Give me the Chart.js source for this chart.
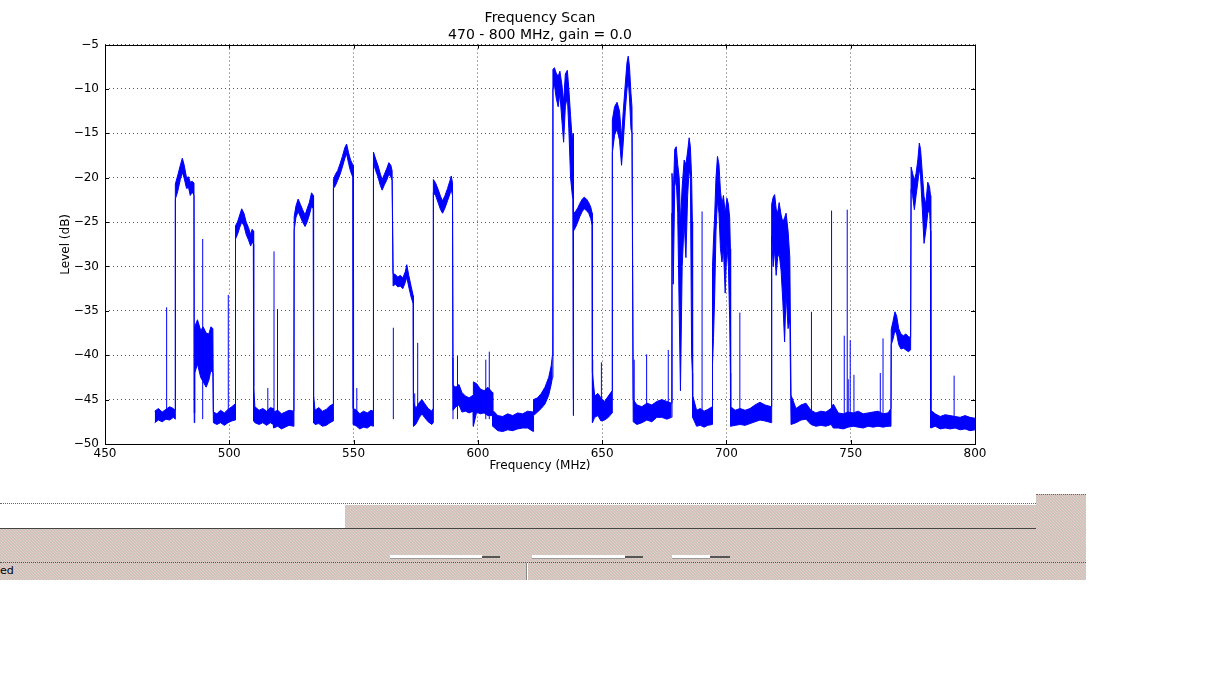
<!DOCTYPE html>
<html>
<head>
<meta charset="utf-8">
<title>Frequency Scan</title>
<script src="https://cdn.jsdelivr.net/npm/chart.js@4/dist/chart.umd.min.js"></script>
<style>
  body { margin: 0; background: #fff; font-family: "DejaVu Sans", sans-serif; }
  #wrap { position: absolute; left: 0; top: 0; width: 1216px; height: 490px; }
  .abs { position: absolute; }
  .beige {
    background-color: #c8c6ba;
    background-image: linear-gradient(45deg, transparent 40%, rgba(240,200,205,0.9) 40%, rgba(240,200,205,0.9) 60%, transparent 60%),
                      radial-gradient(circle, #f3eeb4 0.6px, transparent 0.7px);
    background-size: 3px 3px, 3px 3px;
    background-position: 0 0, 1px 1px;
  }
</style>
</head>
<body>
<div id="wrap"><canvas id="scanChart"></canvas></div>

<!-- leftover window widgets under the plot -->
<div class="abs" style="left:0;top:503px;width:1036px;border-top:1px dotted #666;"></div>
<div class="abs beige" style="left:345px;top:505px;width:691px;height:23px;"></div>
<div class="abs beige" style="left:1036px;top:494px;width:50px;height:35px;border-top:1px dotted #666;"></div>
<div class="abs" style="left:0;top:528px;width:1036px;height:1px;background:#444;"></div>
<div class="abs beige" style="left:0;top:529px;width:1086px;height:51px;"></div>
<div class="abs" style="left:0;top:562px;width:1086px;border-top:1px dotted #555;"></div>
<div class="abs" style="left:390px;top:555px;width:92px;height:3px;background:#fff;border-bottom:1px solid #999;"></div>
<div class="abs" style="left:482px;top:556px;width:18px;height:2px;background:#555;"></div>
<div class="abs" style="left:532px;top:555px;width:93px;height:3px;background:#fff;border-bottom:1px solid #999;"></div>
<div class="abs" style="left:625px;top:556px;width:18px;height:2px;background:#555;"></div>
<div class="abs" style="left:672px;top:555px;width:38px;height:3px;background:#fff;border-bottom:1px solid #999;"></div>
<div class="abs" style="left:710px;top:556px;width:20px;height:2px;background:#555;"></div>
<div class="abs" style="left:526px;top:563px;width:0;height:17px;border-left:1px solid #888;border-right:1px solid #fff;"></div>
<div class="abs" style="left:0;top:564px;font-size:11px;color:#000;">ed</div>

<script>
// Scan trace: upper and lower edge of the noisy trace at each frequency
const freqMHz = [
  470.0, 471.5, 473.0, 474.5, 476.0, 477.5, 478.2,
  478.3, 479.2, 480.3, 481.1, 481.8, 482.8, 483.6, 484.3, 485.1, 485.8,
  485.9,
  486.1, 487.2, 488.5, 489.5, 490.7, 491.8, 492.6, 493.4,
  493.6, 495.0, 496.5, 498.0, 499.5, 501.0, 502.3,
  502.5, 503.3, 504.2, 505.0, 505.9, 506.8, 507.7, 508.6, 509.2, 509.7,
  509.8, 510.3, 512.0, 513.5, 515.0, 516.5, 517.7,
  517.8, 519.5, 521.0, 522.5, 524.0, 526.0,
  526.1, 526.8, 527.7, 528.6, 529.5, 530.5, 531.3, 532.2, 533.1, 533.8,
  533.9, 534.5, 536.0, 537.5, 539.0, 540.5, 541.8,
  541.9, 542.7, 543.6, 544.6, 545.5, 546.5, 547.2, 548.0, 548.8, 549.8,
  549.9, 551.2, 552.5, 554.0, 555.5, 557.0, 557.9,
  558.0, 558.9, 559.8, 560.8, 561.5, 562.4, 563.3, 564.2, 565.0, 565.5,
  565.9, 566.8, 567.8, 568.8, 569.8, 570.8, 571.4, 572.2, 573.2, 574.0,
  574.1, 575.0, 576.5, 577.5, 578.5, 580.0, 581.5, 582.0,
  582.1, 583.0, 584.0, 585.0, 585.8, 586.8, 587.8, 588.8, 589.3, 589.8,
  590.0, 591.2, 592.4, 593.6, 595.0, 596.5, 598.1,
  598.2, 599.5, 601.0, 602.5, 604.0, 605.9,
  606.0, 608.0, 610.0, 612.0, 614.0, 616.0, 618.0, 620.0, 622.3,
  622.4, 624.0, 625.5, 627.0, 628.5, 629.5, 630.0,
  630.2, 630.8, 631.5, 632.3, 633.0, 633.8, 634.5, 635.2, 636.0, 636.6, 637.3, 638.0, 638.3,
  638.4,
  638.5, 639.3, 640.2, 641.0, 642.0, 642.8, 643.7, 644.6, 645.4, 646.0,
  646.1, 647.0, 648.3, 649.5, 651.0, 652.5, 654.0,
  654.1, 655.0, 656.0, 657.0, 657.8, 658.5, 659.3, 660.0, 660.5, 661.0, 661.6, 662.0,
  662.5, 664.0, 666.0, 668.0, 670.0, 672.0, 674.0, 676.0, 677.9,
  678.1, 678.6, 679.2, 679.8, 680.4, 681.0, 681.5, 682.2, 683.0, 683.7, 684.4, 685.0, 685.5, 686.0, 686.3,
  686.4, 688.0, 689.5, 691.0, 692.5, 694.3,
  694.4, 694.8, 695.3, 695.8, 696.4, 697.0, 697.6, 698.2, 698.8, 699.5, 700.2, 700.8, 701.3, 701.6,
  701.7, 703.5, 705.5, 707.5, 709.5, 711.5, 713.5, 715.5, 718.1,
  718.2, 718.8, 719.4, 720.0, 720.6, 721.2, 722.0, 722.7, 723.4, 724.0, 724.8, 725.5,
  726.0, 728.0, 730.0, 732.0, 734.0, 736.0, 738.0, 740.0, 742.1,
  743.0, 745.0, 747.0, 749.0, 751.0, 753.0, 755.0, 757.0, 759.0, 761.0, 763.0, 765.0, 766.2,
  766.3, 767.0, 767.8, 768.5, 769.3, 770.2, 771.2, 772.2, 773.2, 774.1,
  774.3, 774.9, 775.6, 776.3, 777.0, 777.6, 778.1, 778.8, 779.5, 780.2, 781.0, 781.7, 782.1,
  782.2, 784.0, 786.0, 788.0, 790.0, 792.0, 794.0, 796.0, 798.0, 800.0
];
const levelHi = [
  -46.3, -46.0, -46.4, -46.1, -45.8, -46.0, -46.2,
  -20.7, -19.8, -18.6, -17.8, -18.5, -20.0, -19.9, -20.5, -20.4, -20.6,
  -46.5,
  -36.8, -36.0, -37.2, -36.8, -37.5, -37.6, -36.8, -37.0,
  -46.4, -46.6, -46.2, -46.5, -46.1, -45.8, -45.5,
  -25.4, -25.0, -24.2, -23.5, -24.0, -25.0, -25.6, -26.4, -25.8, -26.0,
  -43.5, -45.8, -46.2, -46.0, -46.3, -45.9, -46.0,
  -46.4, -46.2, -46.6, -46.4, -46.2, -46.3,
  -24.4, -23.2, -22.4, -23.0, -23.6, -24.2, -23.5, -22.8, -21.7, -22.0,
  -44.5, -46.2, -45.9, -46.3, -46.1, -45.7, -45.5,
  -20.2, -19.6, -19.2, -18.4, -17.6, -16.6, -16.2, -17.2, -18.0, -18.6,
  -46.0, -46.2, -46.6, -46.3, -46.5, -46.2, -46.3,
  -17.1, -17.9, -18.6, -19.6, -20.2, -19.6, -19.0, -18.3, -18.6, -19.2,
  -30.8, -30.9, -31.2, -31.0, -31.3, -30.6, -29.8, -31.0, -32.3, -33.3,
  -45.2, -46.0, -45.3, -45.0, -45.4, -46.0, -46.3, -46.0,
  -20.2, -20.6, -21.3, -22.1, -22.6, -22.0, -21.2, -20.3, -19.8, -20.6,
  -43.4, -43.6, -43.3, -44.2, -44.6, -44.8, -44.5,
  -43.0, -43.2, -43.8, -44.0, -43.6, -44.2,
  -46.2, -46.8, -46.9, -46.6, -46.8, -46.5, -46.6, -46.3, -46.4,
  -45.0, -44.8, -44.3, -43.6, -42.5, -41.2, -40.0,
  -7.8, -7.6, -8.2, -8.6, -8.0, -9.5, -11.5, -8.3, -7.9, -10.0, -13.0, -16.0, -15.0,
  -45.0,
  -24.0, -23.8, -23.4, -22.9, -22.4, -22.2, -22.4, -22.8, -23.3, -24.0,
  -42.0, -44.6, -44.3, -44.8, -45.2, -44.6, -44.0,
  -13.5, -12.0, -11.5, -12.5, -15.5, -12.5, -9.5, -7.0, -6.3, -7.5, -10.5, -12.0,
  -45.0, -45.6, -45.8, -45.4, -45.6, -45.2, -45.0, -45.2, -45.4,
  -19.5, -22.0, -16.8, -16.5, -18.5, -20.0, -25.0, -21.0, -18.0, -18.5, -17.0, -15.5, -16.5, -20.0, -25.0,
  -44.5, -46.2, -46.0, -46.3, -46.1, -45.8,
  -30.0, -27.0, -24.0, -20.0, -17.6, -18.5, -21.5, -23.0, -22.0, -24.0, -22.3, -23.0, -24.5, -28.0,
  -45.8, -46.2, -46.0, -46.2, -46.0, -45.6, -45.3, -45.6, -45.8,
  -23.0, -22.2, -21.9, -23.5, -24.0, -22.8, -24.2, -25.0, -24.5, -24.0, -26.0, -29.0,
  -44.5, -46.0, -45.6, -45.4, -46.2, -46.5, -46.3, -46.4, -46.0,
  -45.5, -46.5, -46.6, -46.4, -46.5, -46.3, -46.6, -46.5, -46.4, -46.3, -46.6, -46.5, -46.0,
  -37.1, -36.2, -35.1, -35.6, -37.0, -37.6, -37.8, -37.6, -37.9, -38.0,
  -18.8, -19.5, -20.3, -19.5, -18.0, -16.1, -16.8, -19.5, -22.1, -23.0, -20.5, -21.0, -22.0,
  -46.2, -46.6, -46.9, -46.7, -46.8, -46.9, -47.0, -46.8, -47.0, -47.1
];
const levelLo = [
  -47.6, -47.3, -47.5, -47.2, -47.3, -47.0, -47.2,
  -22.4, -21.6, -20.2, -19.4, -20.0, -21.2, -21.1, -22.0, -21.6, -22.0,
  -47.6,
  -42.0, -41.0, -42.5, -43.0, -43.6, -42.8, -41.7, -42.0,
  -47.6, -47.8, -47.6, -47.9, -47.6, -47.4, -47.3,
  -26.9, -26.4, -25.6, -25.0, -25.4, -26.4, -27.0, -27.7, -27.2, -27.5,
  -47.4, -47.6, -47.8, -47.6, -47.9, -47.6, -47.8,
  -48.2, -48.0, -48.3, -48.1, -47.9, -48.0,
  -25.9, -24.5, -23.8, -24.4, -25.0, -25.5, -25.0, -24.2, -23.2, -23.5,
  -47.6, -47.8, -47.7, -48.0, -47.9, -47.6, -47.4,
  -21.2, -20.9, -20.3, -19.6, -18.8, -17.8, -17.3, -18.4, -19.3, -20.0,
  -47.8, -48.0, -48.3, -48.1, -48.2, -47.9, -48.0,
  -18.4, -19.2, -19.9, -20.9, -21.4, -20.8, -20.3, -19.6, -19.9, -20.3,
  -32.2, -32.0, -32.3, -32.2, -32.5, -31.8, -31.2, -32.3, -33.5, -34.2,
  -48.0, -47.8, -47.0, -46.6, -47.0, -47.5, -47.8, -47.6,
  -21.7, -22.0, -22.8, -23.6, -24.0, -23.4, -22.6, -21.8, -21.3, -22.0,
  -46.2, -45.8, -45.6, -46.4, -46.3, -46.5, -46.3,
  -48.0, -46.4, -46.6, -46.5, -46.8, -46.8,
  -48.0, -48.5, -48.6, -48.4, -48.5, -48.3, -48.2, -48.2, -48.6,
  -46.8, -46.4, -46.0, -45.5, -44.5, -43.3, -42.5,
  -10.0, -9.5, -11.0, -12.0, -10.5, -13.5, -16.0, -12.0, -10.8, -14.5, -20.0, -22.0, -22.5,
  -46.8,
  -26.0, -25.6, -25.0, -24.4, -23.8, -23.5, -23.7, -24.0, -24.6, -25.4,
  -47.6, -47.0, -46.8, -47.4, -47.3, -47.0, -46.5,
  -17.2, -15.2, -14.5, -15.8, -18.6, -16.0, -12.5, -10.0, -9.0, -11.0, -14.5, -15.0,
  -47.5, -47.8, -47.6, -47.3, -47.5, -47.0, -47.0, -47.2, -47.0,
  -24.0, -32.0, -21.0, -20.0, -24.0, -35.0, -44.0, -30.0, -25.0, -29.0, -22.0, -19.0, -20.0, -40.0, -42.0,
  -47.0, -48.0, -47.9, -48.1, -47.9, -47.8,
  -41.0, -38.0, -33.0, -26.0, -22.5, -24.0, -28.0, -29.5, -28.0, -33.0, -27.5, -30.0, -36.0, -42.0,
  -48.0, -47.9, -47.8, -47.9, -47.7, -47.5, -47.3, -47.4, -47.6,
  -26.6, -30.0, -28.0, -31.0, -29.0, -28.5, -30.5, -34.0, -38.5, -33.0, -37.0, -36.0,
  -47.8, -47.6, -47.3, -47.2, -47.8, -48.0, -47.9, -48.0, -47.8,
  -48.2, -48.2, -48.3, -48.1, -48.0, -48.1, -48.2, -48.0, -48.1, -48.0, -48.1, -48.0, -48.0,
  -38.8, -38.2, -37.2, -37.6, -38.8, -39.3, -39.2, -39.4, -39.6, -39.4,
  -21.3, -22.0, -23.6, -22.0, -20.5, -19.0, -19.9, -23.5, -27.4, -26.0, -24.0, -23.5, -26.0,
  -48.2, -48.0, -48.3, -48.2, -48.3, -48.2, -48.4, -48.3, -48.5, -48.4
];

// narrow carriers that stick up out of the noise floor
const spikeFreq = [474.8, 489.3, 499.6, 515.5, 518.0, 519.4, 533.9, 550.0, 551.3, 566.0,
                   574.6, 575.8, 590.0, 591.8, 603.2, 604.6, 646.2, 649.7, 662.9, 667.9,
                   676.6, 690.2, 705.4, 734.2, 742.3, 747.4, 748.6, 749.0, 749.8, 751.3,
                   761.9, 763.0, 791.6];
const spikeTop  = [-34.6, -26.9, -33.2, -43.7, -28.3, -34.8, -39.2, -31.5, -43.7, -36.9,
                   -44.3, -38.6, -40.3, -40.1, -40.5, -39.6, -40.5, -40.8, -40.5, -39.9,
                   -39.4, -23.8, -35.2, -35.1, -23.7, -37.8, -23.6, -42.7, -38.3, -42.2,
                   -42.0, -38.1, -42.3];
const spikeBase = -47.2;

const xTicks = [450, 500, 550, 600, 650, 700, 750, 800];
const yTicks = [-50, -45, -40, -35, -30, -25, -20, -15, -10, -5];

const hiPoints = freqMHz.map((f, i) => ({ x: f, y: levelHi[i] }));
const loPoints = freqMHz.map((f, i) => ({ x: f, y: levelLo[i] }));
const spikePoints = [];
spikeFreq.forEach((f, i) => {
    spikePoints.push({ x: f, y: spikeBase }, { x: f, y: spikeTop[i] }, { x: f, y: null });
});

// box round the plot with matplotlib-style inward ticks
const frame = {
    id: 'frame',
    afterDraw(chart) {
        const { ctx, chartArea: a, scales } = chart;
        ctx.save();
        ctx.strokeStyle = '#000';
        ctx.lineWidth = 1;
        ctx.strokeRect(Math.round(a.left) + 0.5, Math.round(a.top) + 0.5,
                       Math.round(a.right - a.left), Math.round(a.bottom - a.top));
        ctx.beginPath();
        xTicks.forEach(v => {
            const px = Math.round(scales.x.getPixelForValue(v)) + 0.5;
            ctx.moveTo(px, a.bottom); ctx.lineTo(px, a.bottom - 4);
            ctx.moveTo(px, a.top); ctx.lineTo(px, a.top + 4);
        });
        yTicks.forEach(v => {
            const py = Math.round(scales.y.getPixelForValue(v)) + 0.5;
            ctx.moveTo(a.left, py); ctx.lineTo(a.left + 4, py);
            ctx.moveTo(a.right, py); ctx.lineTo(a.right - 4, py);
        });
        ctx.stroke();
        ctx.restore();
    }
};

const font = { family: '"DejaVu Sans", sans-serif', size: 12 };

new Chart(document.getElementById('scanChart'), {
    type: 'line',
    data: {
        datasets: [
            { label: 'hi', data: hiPoints, borderColor: '#0000ff', backgroundColor: '#0000ff',
              borderWidth: 1, pointRadius: 0, tension: 0, fill: '+1' },
            { label: 'lo', data: loPoints, borderColor: '#0000ff', borderWidth: 1,
              pointRadius: 0, tension: 0, fill: false },
            { label: 'spikes', data: spikePoints, borderColor: '#0000ff', borderWidth: 1,
              pointRadius: 0, tension: 0, fill: false, spanGaps: false }
        ]
    },
    options: {
        responsive: true,
        maintainAspectRatio: false,
        animation: false,
        layout: { padding: { left: 0, right: 241, top: 0, bottom: 0 } },
        plugins: {
            legend: { display: false },
            tooltip: { enabled: false },
            title: { display: true, text: 'Frequency Scan', fullSize: false, color: '#000',
                     font: { family: font.family, size: 14, weight: 'normal' },
                     padding: { top: 10, bottom: 0 } },
            subtitle: { display: true, text: '470 - 800 MHz, gain = 0.0', fullSize: false, color: '#000',
                        font: { family: font.family, size: 14, weight: 'normal' },
                        padding: { top: 0, bottom: 1 } }
        },
        scales: {
            x: {
                type: 'linear', min: 450, max: 800,
                afterBuildTicks: s => { s.ticks = xTicks.map(v => ({ value: v })); },
                afterFit: s => { s.height = 46; },
                ticks: { color: '#000', font, padding: 3, maxRotation: 0 },
                grid: { color: '#555', lineWidth: 1, drawTicks: false },
                border: { display: false, dash: [1, 3] },
                title: { display: true, text: 'Frequency (MHz)', color: '#000', font,
                         padding: { top: 0, bottom: 17 } }
            },
            y: {
                min: -50, max: -5,
                afterBuildTicks: s => { s.ticks = yTicks.map(v => ({ value: v })); },
                afterFit: s => { s.width = 105; },
                ticks: { color: '#000', font, padding: 6,
                         callback: v => String(v).replace('-', '\u2212') },
                grid: { color: '#555', lineWidth: 1, drawTicks: false },
                border: { display: false, dash: [1, 3] },
                title: { display: true, text: 'Level (dB)', color: '#000', font,
                         padding: { top: 59, bottom: 0 } }
            }
        }
    },
    plugins: [frame]
});
</script>
</body>
</html>
